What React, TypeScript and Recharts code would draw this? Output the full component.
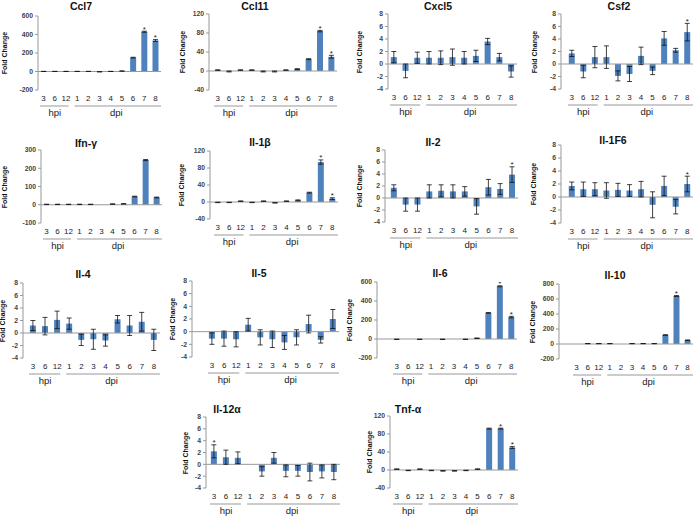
import { ComposedChart, Bar, ErrorBar, XAxis, YAxis, ReferenceLine, Scatter } from "recharts";

const CATEGORIES = ["3", "6", "12", "1", "2", "3", "4", "5", "6", "7", "8"];
const BAR_COLOR = "#4f81bd";
const FONT = '"Liberation Sans", Arial, sans-serif';

const TICKS_600 = [-200, 0, 200, 400, 600];
const TICKS_120 = [-40, 0, 40, 80, 120];
const TICKS_8 = [-4, -2, 0, 2, 4, 6, 8];
const TICKS_300 = [-100, 0, 100, 200, 300];
const TICKS_800 = [-200, 0, 200, 400, 600, 800];

const ccl7Values = [1, 1, 1, 1, 1, -3, 1, 5, 150, 430, 335];
const ccl7Errors = [1, 1, 1, 1, 1, 2, 1, 2, 4, 6, 10];
const ccl7Stars = [9, 10];

const ccl11Values = [2, -1, 2, 2, -1, -1, 2, 4, 25, 84, 30];
const ccl11Errors = [0.5, 1, 0.5, 0.5, 1, 1, 0.5, 1, 1, 1.5, 3];
const ccl11Stars = [9, 10];

const cxcl5Values = [1.1, -1.1, 1.0, 1.0, 1.0, 1.1, 1.0, 1.3, 3.6, 1.1, -1.2];
const cxcl5Errors = [0.9, 1.1, 0.9, 1.0, 1.1, 1.3, 1.0, 0.9, 0.5, 0.6, 0.9];
const cxcl5Stars: number[] = [];

const csf2Values = [1.7, -1.2, 1.1, 1.1, -1.9, -1.6, 1.3, -1.1, 4.1, 2.2, 5.1];
const csf2Errors = [0.5, 1.0, 1.7, 1.8, 0.8, 1.2, 1.4, 0.6, 1.1, 0.3, 1.4];
const csf2Stars = [10];

const ifngValues = [2, 2, 2, 2, 2, 0, 4, 5, 45, 245, 40];
const ifngErrors = [1, 1, 1, 1, 1, 0, 1, 1, 2, 3, 2];
const ifngStars: number[] = [];

const il1bValues = [-1, -1, 2, -1, 2, -2, 2, 4, 22, 94, 8];
const il1bErrors = [0.5, 0.5, 0.5, 0.5, 0.5, 0.5, 0.5, 1, 1, 5, 2];
const il1bStars = [9, 10];

const il2Values = [1.7, -1.1, -1.1, 1.1, 1.2, 1.1, 1.1, -1.4, 1.8, 1.5, 3.9];
const il2Errors = [0.5, 1.1, 1.1, 1.1, 1.0, 1.1, 0.8, 1.3, 1.3, 0.9, 1.3];
const il2Stars = [10];

const il1f6Values = [1.7, 1.2, 1.2, 1.0, 1.1, 1.0, 1.2, -1.2, 1.7, -1.5, 2.0];
const il1f6Errors = [0.6, 1.1, 1.0, 1.2, 1.0, 0.9, 1.2, 2.0, 1.5, 1.1, 1.2];
const il1f6Stars = [10];

const il4Values = [1.2, 1.1, 2.1, 1.5, -1.1, -1.0, -1.2, 2.2, 1.2, 1.8, -1.1];
const il4Errors = [0.8, 1.4, 1.4, 0.9, 0.9, 1.6, 0.9, 0.6, 1.6, 1.5, 1.7];
const il4Stars: number[] = [];

const il5Values = [-1.1, -1.1, -1.2, 1.1, -0.9, -1.2, -1.7, -0.9, 1.2, -1.3, 2.0];
const il5Errors = [0.9, 1.2, 1.2, 1.0, 1.2, 1.3, 1.1, 1.2, 1.4, 0.5, 1.5];
const il5Stars: number[] = [];

const il6Values = [-3, 0, -3, 0, -3, 0, -3, 8, 275, 555, 230];
const il6Errors = [2, 0, 2, 0, 2, 0, 2, 3, 3, 5, 8];
const il6Stars = [9, 10];

const il10Values = [0, 5, 5, 5, 0, 5, 5, 5, 120, 640, 50];
const il10Errors = [0, 1, 1, 1, 0, 1, 1, 1, 4, 6, 4];
const il10Stars = [9];

const il12aValues = [2.2, 1.2, 1.1, 0, -1.2, 1.1, -1.1, -1.1, -1.3, -1.2, -1.3];
const il12aErrors = [1.1, 1.2, 1.0, 0, 0.8, 0.9, 1.0, 0.9, 1.5, 1.1, 1.3];
const il12aStars = [0];

const tnfaValues = [2, -1, 2, -1, -2, -2, -1, 2, 92, 92, 50];
const tnfaErrors = [0.5, 0.5, 0.5, 0.5, 0.5, 0.5, 0.5, 0.5, 1, 1, 2];
const tnfaStars = [9, 10];

// layout of each small chart on the page
const PANELS = [
  { title: "Ccl7", values: ccl7Values, errors: ccl7Errors, stars: ccl7Stars, ticks: TICKS_600, axisX: 38, right: 161, top: 16, bottom: 90, pad: 0, titleX: 81, titleY: 6, labelDx: 33 },
  { title: "Ccl11", values: ccl11Values, errors: ccl11Errors, stars: ccl11Stars, ticks: TICKS_120, axisX: 209, right: 337, top: 14, bottom: 90, pad: 3, titleX: 255, titleY: 6, labelDx: 26 },
  { title: "Cxcl5", values: cxcl5Values, errors: cxcl5Errors, stars: cxcl5Stars, ticks: TICKS_8, axisX: 388, right: 517, top: 14, bottom: 89, pad: 0, titleX: 438, titleY: 6, labelDx: 28 },
  { title: "Csf2", values: csf2Values, errors: csf2Errors, stars: csf2Stars, ticks: TICKS_8, axisX: 561, right: 693, top: 14, bottom: 89, pad: 5, titleX: 619, titleY: 6, labelDx: 26 },
  { title: "Ifn-γ", values: ifngValues, errors: ifngErrors, stars: ifngStars, ticks: TICKS_300, axisX: 41, right: 162, top: 150, bottom: 223, pad: 0, titleX: 86, titleY: 143, labelDx: 36 },
  { title: "Il-1β", values: il1bValues, errors: il1bErrors, stars: il1bStars, ticks: TICKS_120, axisX: 210, right: 338, top: 151, bottom: 219, pad: 2, titleX: 260, titleY: 142, labelDx: 28 },
  { title: "Il-2", values: il2Values, errors: il2Errors, stars: il2Stars, ticks: TICKS_8, axisX: 385, right: 518, top: 150, bottom: 222, pad: 3, titleX: 433, titleY: 142, labelDx: 25 },
  { title: "Il-1F6", values: il1f6Values, errors: il1f6Errors, stars: il1f6Stars, ticks: TICKS_8, axisX: 561, right: 693, top: 145, bottom: 223, pad: 5, titleX: 613, titleY: 140, labelDx: 27 },
  { title: "Il-4", values: il4Values, errors: il4Errors, stars: il4Stars, ticks: TICKS_8, axisX: 23, right: 160, top: 283, bottom: 358, pad: 4, titleX: 83, titleY: 274, labelDx: 20 },
  { title: "Il-5", values: il5Values, errors: il5Errors, stars: il5Stars, ticks: TICKS_8, axisX: 192, right: 339, top: 281, bottom: 357, pad: 14, titleX: 259, titleY: 273, labelDx: 19 },
  { title: "Il-6", values: il6Values, errors: il6Errors, stars: il6Stars, ticks: TICKS_600, axisX: 377, right: 517, top: 282, bottom: 358, pad: 14, titleX: 440, titleY: 273, labelDx: 27 },
  { title: "Il-10", values: il10Values, errors: il10Errors, stars: il10Stars, ticks: TICKS_800, axisX: 559, right: 693, top: 284, bottom: 359, pad: 12, titleX: 615, titleY: 275, labelDx: 26 },
  { title: "Il-12α", values: il12aValues, errors: il12aErrors, stars: il12aStars, ticks: TICKS_8, axisX: 206, right: 340, top: 417, bottom: 488, pad: 2, titleX: 227, titleY: 409, labelDx: 20 },
  { title: "Tnf-α", values: tnfaValues, errors: tnfaErrors, stars: tnfaStars, ticks: TICKS_120, axisX: 390, right: 518, top: 416, bottom: 488, pad: 1, titleX: 408, titleY: 409, labelDx: 20 },
];

type PanelDef = (typeof PANELS)[number];

// draws the hpi / dpi group rules and names under the day labels
function GroupTick(props: any) {
  const { x, y, bw } = props;
  const i = props.index ?? props.payload?.index;
  const ly = y + 4;
  return (
    <g>
      {i === 0 && (
        <line x1={x - bw / 2 + 2} x2={x + 2.5 * bw - 3} y1={ly} y2={ly} stroke="#999" strokeWidth={1} />
      )}
      {i === 3 && (
        <line x1={x - bw / 2 + 3} x2={x + 7.5 * bw} y1={ly} y2={ly} stroke="#999" strokeWidth={1} />
      )}
      {i === 1 && (
        <text x={x} y={y + 14} textAnchor="middle" fontSize={9.5} fill="#222" fontFamily={FONT}>
          hpi
        </text>
      )}
      {i === 6 && (
        <text x={x + bw / 2} y={y + 14} textAnchor="middle" fontSize={9.5} fill="#222" fontFamily={FONT}>
          dpi
        </text>
      )}
    </g>
  );
}

function StarShape(props: any) {
  if (props.payload?.starAt == null || !Number.isFinite(props.cy)) return <g />;
  return (
    <text x={props.cx} y={props.cy + 0.5} textAnchor="middle" fontSize={8} fill="#222" fontFamily={FONT}>
      *
    </text>
  );
}

function Panel({ p }: { p: PanelDef }) {
  const yW = 24;
  const mt = 6;
  const mr = 2;
  const catH = 12;
  const grpH = 18;
  const left = p.axisX - yW;
  const width = p.right - left + mr;
  const plotH = p.bottom - p.top;
  const height = mt + plotH + catH + grpH;
  const bw = (p.right - p.axisX - p.pad) / CATEGORIES.length;
  const data = CATEGORIES.map((c, i) => ({
    idx: String(i),
    v: p.values[i],
    e: p.errors[i],
    starAt: p.stars.includes(i) ? p.values[i] + p.errors[i] : null,
  }));
  const domain = [p.ticks[0], p.ticks[p.ticks.length - 1]];

  return (
    <>
      <div
        style={{
          position: "absolute",
          left: p.titleX - 40,
          top: p.titleY - 7,
          width: 80,
          textAlign: "center",
          fontFamily: FONT,
          fontWeight: "bold",
          fontSize: 10.5,
          lineHeight: "14px",
          color: "#111",
        }}
      >
        {p.title}
      </div>
      <div
        style={{
          position: "absolute",
          left: p.axisX - p.labelDx - 30,
          top: (p.top + p.bottom) / 2 - 5,
          width: 60,
          height: 10,
          lineHeight: "10px",
          textAlign: "center",
          transform: "rotate(-90deg)",
          fontFamily: FONT,
          fontWeight: "bold",
          fontSize: 7,
          color: "#111",
          whiteSpace: "nowrap",
        }}
      >
        Fold Change
      </div>
      <div style={{ position: "absolute", left, top: p.top - mt }}>
        <ComposedChart
          width={width}
          height={height}
          data={data}
          margin={{ top: mt, right: mr, bottom: 0, left: 0 }}
          barCategoryGap="24%"
        >
          <YAxis
            width={yW}
            domain={domain}
            ticks={p.ticks}
            interval={0}
            allowDataOverflow
            axisLine={{ stroke: "#999" }}
            tickLine={{ stroke: "#999" }}
            tickSize={3}
            tickMargin={2}
            tick={{ fontSize: 6.8, fill: "#444", fontFamily: FONT, fontWeight: "bold" }}
          />
          <XAxis
            dataKey="idx"
            interval={0}
            height={catH}
            axisLine={false}
            tickLine={false}
            tickSize={3}
            tickMargin={2}
            padding={{ left: p.pad, right: 0 }}
            tickFormatter={(v: string) => CATEGORIES[Number(v)]}
            tick={{ fontSize: 8, fill: "#222", fontFamily: FONT }}
          />
          <XAxis
            xAxisId="grp"
            dataKey="idx"
            interval={0}
            height={grpH}
            axisLine={false}
            tickLine={false}
            tickSize={0}
            tickMargin={0}
            padding={{ left: p.pad, right: 0 }}
            tick={(tp: any) => <GroupTick {...tp} bw={bw} />}
          />
          <ReferenceLine y={0} stroke="#999" strokeWidth={1} />
          <Bar dataKey="v" fill={BAR_COLOR} isAnimationActive={false}>
            <ErrorBar dataKey="e" width={2.5} strokeWidth={0.8} stroke="#111" />
          </Bar>
          <Scatter dataKey="starAt" shape={StarShape} isAnimationActive={false} />
        </ComposedChart>
      </div>
    </>
  );
}

export default function App() {
  return (
    <div
      style={{
        position: "absolute",
        left: 0,
        top: 0,
        width: 696,
        height: 518,
        background: "#fff",
        overflow: "hidden",
      }}
    >
      {PANELS.map((p) => (
        <Panel key={p.title} p={p} />
      ))}
    </div>
  );
}
